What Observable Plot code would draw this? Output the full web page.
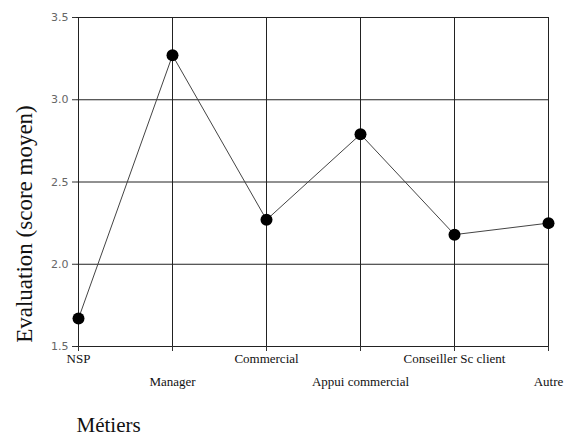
<!DOCTYPE html>
<html><head><meta charset="utf-8">
<script src="https://cdn.jsdelivr.net/npm/d3@7"></script>
<script src="https://cdn.jsdelivr.net/npm/@observablehq/plot@0.6"></script>
<style>body{margin:0;background:#fff}</style>
</head><body><div id="chart"></div>
<script>
const categories = ["NSP","Manager","Commercial","Appui commercial","Conseiller Sc client","Autre"];
const scores = [1.67,3.27,2.27,2.79,2.18,2.25];
const yTicks = [1.5,2.0,2.5,3.0,3.5];
const yTitle = "Evaluation (score moyen)";
const xTitle = "Métiers";

const data = categories.map((c,i)=>({metier:c, score:scores[i]}));
const even = categories.filter((_,i)=>i%2===0);
const odd = categories.filter((_,i)=>i%2===1);

const chart = Plot.plot({
  width:571, height:437, marginLeft:76, marginRight:22, marginTop:17, marginBottom:91,
  style:{background:"#fff", fontFamily:"'Liberation Serif', serif", color:"#111"},
  x:{type:"point", domain:categories, padding:0},
  y:{domain:[1.5,3.5]},
  marks:[
    Plot.gridX(categories,{stroke:"#222", strokeOpacity:1}),
    Plot.gridY(yTicks,{stroke:"#222", strokeOpacity:1}),
    Plot.axisY(yTicks,{tickSize:4, tickPadding:4, tickFormat:d3.format(".1f"), fontFamily:"'DejaVu Sans', sans-serif", fontSize:11, letterSpacing:1, fill:"#666", stroke:"#333", label:null}),
    Plot.axisX(even,{tickSize:5, tickPadding:2, fontFamily:"'Liberation Serif', serif", fontSize:13, fill:"#111", stroke:"#333", label:null}),
    Plot.axisX(odd,{tickSize:5, tickPadding:25, fontFamily:"'Liberation Serif', serif", fontSize:13, fill:"#111", stroke:"#333", label:null}),
    Plot.line(data,{x:"metier", y:"score", stroke:"#444", strokeWidth:1}),
    Plot.dot(data,{x:"metier", y:"score", r:6, fill:"#000", stroke:"none"}),
    Plot.text([yTitle],{text:d=>d, frameAnchor:"left", rotate:-90, dx:-52, dy:42, fontSize:23, fontFamily:"'Liberation Serif', serif", fill:"#111", textAnchor:"middle", lineAnchor:"middle"}),
    Plot.text([xTitle],{text:d=>d, frameAnchor:"bottom-left", dy:79, textAnchor:"start", lineAnchor:"middle", fontSize:21, fontFamily:"'Liberation Serif', serif", fill:"#111"})
  ]
});
document.getElementById("chart").appendChild(chart);
</script>
</body></html>
